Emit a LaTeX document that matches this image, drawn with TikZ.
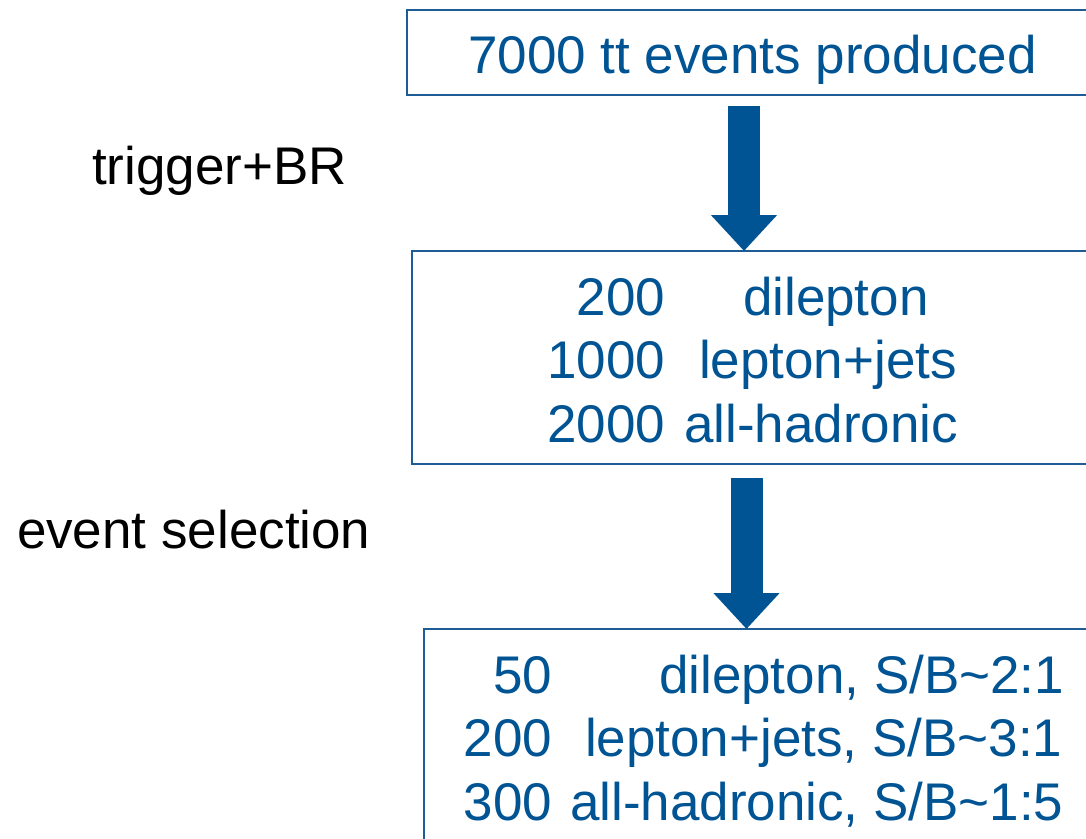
\documentclass[tikz,border=0pt]{standalone}
\usepackage{fontspec}
\setmainfont{Liberation Sans}
\usetikzlibrary{arrows.meta}
\definecolor{tblue}{RGB}{0,84,147}
\definecolor{bblue}{RGB}{30,92,150}
\begin{document}
\begin{tikzpicture}[x=1pt,y=-1pt,
  box/.style={draw=bblue, line width=1.6pt, inner sep=0pt, outer sep=0pt, anchor=north west},
  txt/.style={text=tblue, font=\fontsize{53}{64}\selectfont, inner sep=0pt, outer sep=0pt},
  lbl/.style={text=black, font=\fontsize{53}{64}\selectfont, inner sep=0pt, outer sep=0pt, anchor=base west},
  bigarrow/.style={draw=tblue, line width=32pt, -{Triangle[length=36pt,width=64pt]}}]
\useasboundingbox (0,0) rectangle (1086,838);
% boxes
\node[box, minimum width=690pt, minimum height=85pt] (b1) at (407,10) {};
\node[box, minimum width=690pt, minimum height=213pt] (b2) at (412,251) {};
\node[box, minimum width=690pt, minimum height=260pt] (b3) at (424,629) {};
% arrows
\coordinate (a1s) at (744,106);
\coordinate (a2s) at (746.5,478);
\draw[bigarrow] (a1s) -- (a1s |- b2.north);
\draw[bigarrow] (a2s) -- (a2s |- b3.north);
% box texts
\node[txt, anchor=base] (t1) at (752.5,73) {7000 tt events produced};
\node[txt, anchor=base east] (n21) at (665,315) {200};
\node[txt, anchor=base west] (w21) at (743,315) {dilepton};
\node[txt, anchor=base east] (n22) at (665,378) {1000};
\node[txt, anchor=base west] (w22) at (699,378) {lepton+jets};
\node[txt, anchor=base east] (n23) at (665,442) {2000};
\node[txt, anchor=base west] (w23) at (684,442) {all-hadronic};
\node[txt, anchor=base east] (n31) at (552,693) {50};
\node[txt, anchor=base west] (w31) at (659,693) {dilepton, S/B\textasciitilde 2:1};
\node[txt, anchor=base east] (n32) at (552,756) {200};
\node[txt, anchor=base west] (w32) at (585,756) {lepton+jets, S/B\textasciitilde 3:1};
\node[txt, anchor=base east] (n33) at (552,820) {300};
\node[txt, anchor=base west] (w33) at (570,820) {all-hadronic, S/B\textasciitilde 1:5};
% side labels
\node[lbl] (l1) at (92,184) {trigger+BR};
\node[lbl] (l2) at (17,548) {event selection};
\end{tikzpicture}
\end{document}
